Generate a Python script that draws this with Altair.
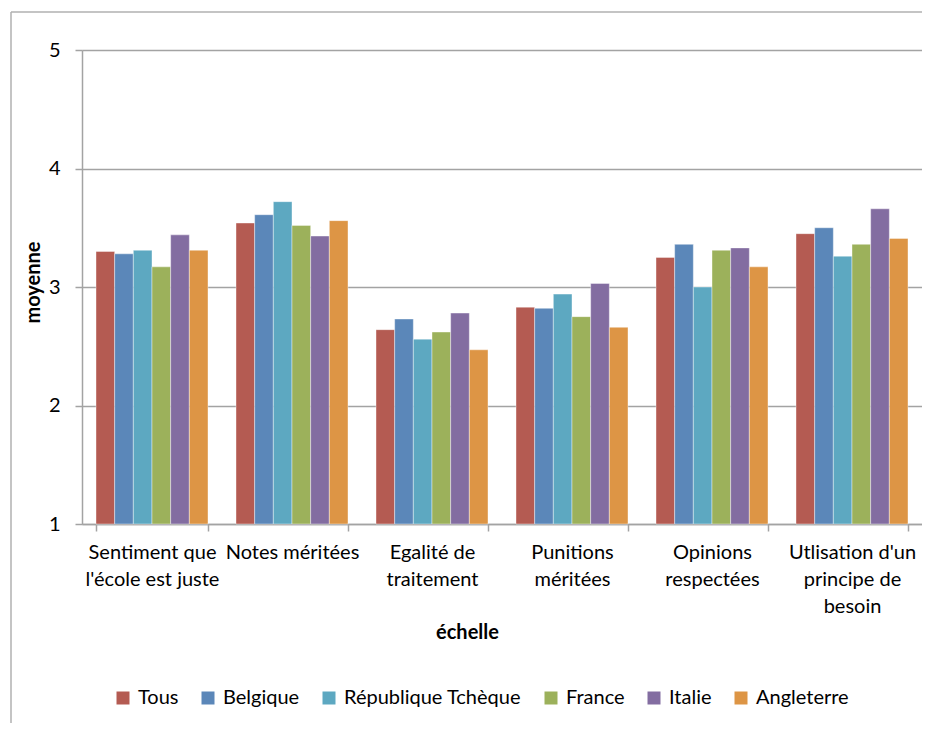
import altair as alt
import pandas as pd

categories = [
    "Sentiment que\nl'école est juste",
    "Notes méritées",
    "Egalité de\ntraitement",
    "Punitions\nméritées",
    "Opinions\nrespectées",
    "Utlisation d'un\nprincipe de\nbesoin",
]
series = ["Tous", "Belgique", "République Tchèque", "France", "Italie", "Angleterre"]
tous = [3.30, 3.54, 2.64, 2.83, 3.25, 3.45]
belgique = [3.28, 3.61, 2.73, 2.82, 3.36, 3.50]
tcheque = [3.31, 3.72, 2.56, 2.94, 3.00, 3.26]
france = [3.17, 3.52, 2.62, 2.75, 3.31, 3.36]
italie = [3.44, 3.43, 2.78, 3.03, 3.33, 3.66]
angleterre = [3.31, 3.56, 2.47, 2.66, 3.17, 3.41]
colors = ["#B45B52", "#5B87B9", "#5DA8C1", "#9CB15B", "#836DA1", "#DD9545"]

values = [tous, belgique, tcheque, france, italie, angleterre]
rows = []
for s, vals in zip(series, values):
    for c, v in zip(categories, vals):
        rows.append({"echelle": c, "pays": s, "moyenne": v, "base": 1})
df = pd.DataFrame(rows)

FONT = "Lato"
GRID = "#A3A3A3"
FS = 20

bars = alt.Chart(df).mark_bar(stroke="white", strokeWidth=0.8, strokeOpacity=0.5).encode(
    x=alt.X(
        "echelle:N",
        sort=categories,
        scale=alt.Scale(paddingInner=0.2, paddingOuter=0.1),
        axis=alt.Axis(
            title="échelle",
            labelAngle=0,
            labelExpr="split(datum.label, '\\n')",
            labelFontSize=FS,
            labelLineHeight=27,
            labelPadding=11,
            labelColor="black",
            labelFont=FONT,
            tickBand="extent",
            tickSize=7,
            tickColor=GRID,
            tickWidth=1.5,
            domainColor=GRID,
            domainWidth=1.5,
            titleFont=FONT,
            titleFontSize=FS,
            titleFontWeight="bold",
            titleColor="black",
            titleX=385,
            titleY=108,
            titleBaseline="middle",
            titleAlign="center",
            grid=False,
        ),
    ),
    xOffset=alt.XOffset("pays:N", sort=series),
    y=alt.Y(
        "moyenne:Q",
        scale=alt.Scale(domain=[1, 5], zero=False, nice=False),
        axis=alt.Axis(
            title="moyenne",
            values=[1, 2, 3, 4, 5],
            format="d",
            labelFontSize=FS,
            labelColor="black",
            labelFont=FONT,
            labelPadding=15,
            tickSize=7,
            tickColor=GRID,
            tickWidth=1.5,
            domainColor=GRID,
            domainWidth=1.5,
            gridColor=GRID,
            gridWidth=1.5,
            titleFont=FONT,
            titleFontSize=FS,
            titleFontWeight="bold",
            titleColor="black",
            titleX=-49,
            titleY=232,
            titleAlign="center",
            titleBaseline="middle",
        ),
    ),
    y2="base:Q",
    color=alt.Color(
        "pays:N",
        sort=series,
        scale=alt.Scale(domain=series, range=colors),
        legend=alt.Legend(
            title=None,
            orient="none",
            legendX=31,
            legendY=638,
            direction="horizontal",
            symbolType="square",
            symbolSize=169,
            symbolStrokeWidth=0,
            labelFontSize=FS,
            labelFont=FONT,
            labelColor="black",
            labelOffset=5,
            labelLimit=400,
            columnPadding=19,
            padding=0,
        ),
    ),
)

frame_left = alt.Chart(alt.Data(values=[{}])).mark_rule(color="#B0B0B0", strokeWidth=1.5).encode(
    x=alt.value(-71), y=alt.value(-38), y2=alt.value(690)
)
frame_top = alt.Chart(alt.Data(values=[{}])).mark_rule(color="#B0B0B0", strokeWidth=1.5).encode(
    x=alt.value(-71), x2=alt.value(840), y=alt.value(-38)
)

chart = alt.layer(frame_left, frame_top, bars).properties(
    width=840,
    height=474,
    autosize=alt.AutoSizeParams(type="none"),
    padding={"left": 74, "top": 42, "right": 0, "bottom": 199},
).configure_view(stroke=None).configure(font=FONT)

chart.save("out.html", embed_options={"renderer": "svg", "actions": False})
